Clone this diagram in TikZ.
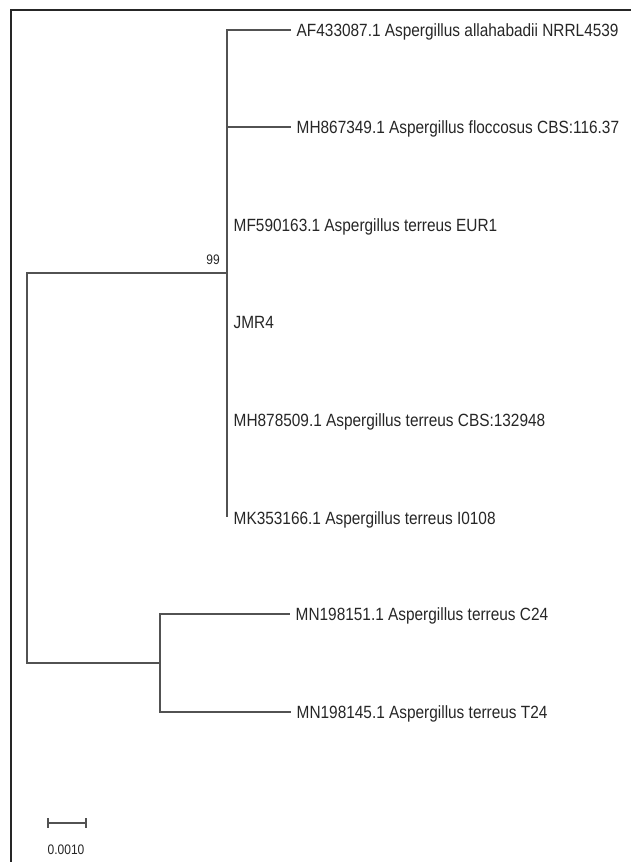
\documentclass[tikz,border=0pt]{standalone}
\usepackage{fontspec}
\setmainfont{Liberation Sans}
\usetikzlibrary{positioning}
\tikzstyle{branch}=[draw=black!68, line width=1.4pt, line cap=rect]
\tikzstyle{frame}=[draw=black!85, line width=1.5pt]
\tikzstyle{taxon}=[anchor=west, inner sep=0pt, text height=12.6pt, text depth=0pt, text=black!85, font=\fontsize{15.4}{18}\selectfont]
\tikzstyle{small}=[inner sep=0pt, text=black!85, font=\fontsize{12}{14}\selectfont]
\newcommand{\tall}[1]{\scalebox{1}[1.15]{#1}}

\begin{document}
\begin{tikzpicture}[x=1pt,y=-1pt]
\useasboundingbox (0,0) rectangle (631,862);
\draw[frame] (11,862) -- (11,10) -- (631,10);
% inner nodes of the tree
\coordinate (root1) at (27,273);
\coordinate (root2) at (27,663);
\coordinate (na) at (227,273);
\coordinate (nb) at (160,663);
\coordinate (na1) at (227,30);
\coordinate (na2) at (227,516);
\coordinate (nb1) at (160,614);
\coordinate (nb2) at (160,712);
\draw[branch] (na) -- (root1) -- (root2) -- (nb);
\draw[branch] (na1) -- (na2);
\draw[branch] (nb1) -- (nb2);
\node[small, anchor=south east] (boot) at (220,265) {\tall{99}};
% leaves
\foreach \n/\xa/\xb/\y/\t in {
	t1/227/290/30/AF433087.1 Aspergillus allahabadii NRRL4539,
	t2/227/290/127/MH867349.1 Aspergillus floccosus CBS:116.37,
	t3/227/227/225/MF590163.1 Aspergillus terreus EUR1,
	t4/227/227/322/JMR4,
	t5/227/227/420/MH878509.1 Aspergillus terreus CBS:132948,
	t6/227/227/518/MK353166.1 Aspergillus terreus I0108,
	t7/160/289/614/MN198151.1 Aspergillus terreus C24,
	t8/160/290/712/MN198145.1 Aspergillus terreus T24} {
	\coordinate (\n s) at (\xa,\y);
	\coordinate (\n e) at (\xb,\y);
	\draw[branch] (\n s) -- (\n e);
	\node[taxon, right=6.5pt of \n e] (\n) {\tall{\t}};
}
% scale bar
\coordinate (s0) at (48,823);
\coordinate (s1) at (86,823);
\draw[branch, line width=1.2pt] (s0) -- (s1);
\draw[branch, line width=1.2pt] ([yshift=4pt]s0) -- ([yshift=-4pt]s0);
\draw[branch, line width=1.2pt] ([yshift=4pt]s1) -- ([yshift=-4pt]s1);
\node[small] (scale) at (66,850) {\tall{0.0010}};
\end{tikzpicture}
\end{document}
